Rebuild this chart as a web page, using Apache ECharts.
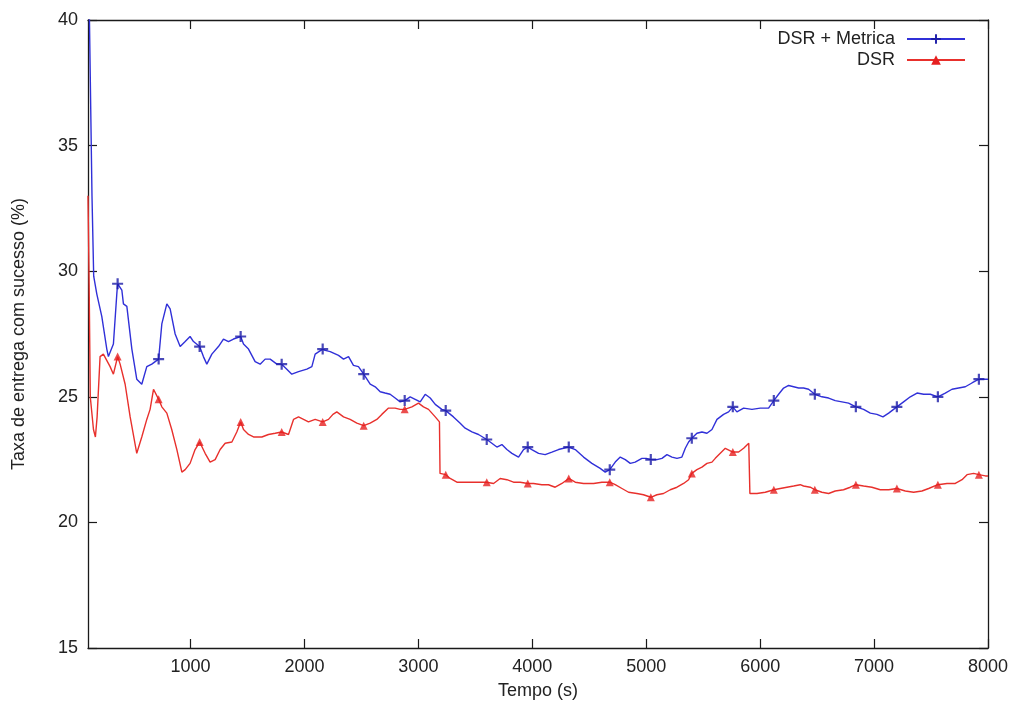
<!DOCTYPE html>
<html>
<head>
<meta charset="utf-8">
<title>Taxa de entrega com sucesso</title>
<script src="https://cdn.jsdelivr.net/npm/echarts@6/dist/echarts.min.js"></script>
<style>
  html, body { margin: 0; padding: 0; background: #ffffff; }
  #chart { width: 1017px; height: 709px; }
</style>
</head>
<body>
<div id="chart"></div>
<script>
// Axis ticks
const tempoTicks = [1000, 2000, 3000, 4000, 5000, 6000, 7000, 8000];
const taxaTicks = [15, 20, 25, 30, 35, 40];

// DSR + Metrica: time (s) and delivery rate (%)
const metricaTempo = [100, 135, 150, 177, 221, 265, 279, 323, 353, 360, 397, 411, 441, 485, 528, 572, 616, 660, 720,
  748, 792, 821, 865, 909, 953, 996, 1026, 1080, 1113, 1143, 1187, 1245, 1289, 1333, 1377, 1440, 1465, 1509, 1567,
  1611, 1655, 1699, 1758, 1800, 1845, 1889, 1948, 2021, 2065, 2094, 2160, 2182, 2226, 2299, 2343, 2387, 2430, 2474,
  2520, 2577, 2621, 2665, 2708, 2752, 2796, 2840, 2880, 2928, 2972, 3016, 3060, 3104, 3148, 3206, 3240, 3308, 3367,
  3411, 3470, 3528, 3600, 3645, 3689, 3733, 3777, 3821, 3879, 3923, 3960, 3996, 4055, 4113, 4172, 4230, 4274, 4320,
  4377, 4450, 4523, 4596, 4640, 4680, 4728, 4772, 4816, 4860, 4903, 4962, 5000, 5040, 5094, 5138, 5182, 5226, 5270,
  5313, 5343, 5372, 5400, 5445, 5489, 5533, 5577, 5621, 5679, 5723, 5760, 5796, 5855, 5928, 6001, 6074, 6120, 6162,
  6206, 6250, 6294, 6338, 6381, 6425, 6480, 6542, 6601, 6659, 6718, 6776, 6840, 6908, 6967, 7025, 7078, 7128, 7200,
  7259, 7318, 7377, 7435, 7494, 7560, 7625, 7684, 7742, 7801, 7859, 7920, 7977, 8000];
const metricaTaxa = [44, 33, 29.8, 29.1, 28.2, 26.9, 26.6, 27.1, 29.1, 29.5, 29.25, 28.7, 28.6, 26.9, 25.7, 25.5, 26.2, 26.3, 26.5,
  27.9, 28.7, 28.5, 27.5, 27.0, 27.2, 27.4, 27.2, 27.0, 26.6, 26.3, 26.7, 27.0, 27.3, 27.2, 27.3, 27.4, 27.1, 26.9, 26.4,
  26.3, 26.5, 26.5, 26.3, 26.3, 26.1, 25.9, 26.0, 26.1, 26.2, 26.7, 26.9, 26.85, 26.8, 26.65, 26.5, 26.6, 26.25, 26.2,
  25.9, 25.5, 25.4, 25.2, 25.15, 25.1, 24.95, 24.8, 24.85, 25.0, 24.9, 24.8, 25.1, 24.95, 24.7, 24.5, 24.45, 24.2, 23.95,
  23.75, 23.6, 23.5, 23.3, 23.15, 23.0, 23.1, 22.9, 22.75, 22.6, 22.9, 23.0, 22.9, 22.75, 22.7, 22.8, 22.9, 22.95, 23.0,
  22.9, 22.6, 22.35, 22.15, 22.0, 22.1, 22.4, 22.6, 22.5, 22.35, 22.4, 22.55, 22.55, 22.5, 22.5, 22.55, 22.7, 22.6, 22.55,
  22.6, 22.95, 23.2, 23.35, 23.55, 23.6, 23.55, 23.7, 24.1, 24.3, 24.4, 24.6, 24.4, 24.55, 24.5, 24.55, 24.55, 24.85, 25.1,
  25.35, 25.45, 25.4, 25.35, 25.35, 25.3, 25.1, 25.0, 24.95, 24.85, 24.8, 24.75, 24.6, 24.5, 24.35, 24.3, 24.2, 24.35, 24.6,
  24.8, 25.0, 25.15, 25.1, 25.1, 25.0, 25.15, 25.3, 25.35, 25.4, 25.55, 25.7, 25.7, 25.7];

// DSR: time (s) and delivery rate (%)
const dsrTempo = [100, 110, 120, 148, 165, 180, 206, 235, 250, 294, 323, 360, 382, 426, 470, 528, 572, 616, 645, 675, 720,
  748, 792, 835, 880, 924, 953, 996, 1040, 1080, 1128, 1172, 1216, 1260, 1304, 1363, 1406, 1440, 1465, 1509, 1553, 1626,
  1684, 1743, 1800, 1860, 1904, 1948, 1992, 2035, 2094, 2160, 2211, 2250, 2284, 2343, 2401, 2460, 2520, 2577, 2635, 2679,
  2738, 2796, 2840, 2880, 2943, 3001, 3045, 3089, 3148, 3185, 3190, 3240, 3279, 3338, 3411, 3470, 3528, 3600, 3660, 3718,
  3777, 3835, 3894, 3960, 4011, 4084, 4142, 4201, 4260, 4320, 4377, 4450, 4538, 4611, 4680, 4728, 4787, 4845, 4918, 4976,
  5040, 5094, 5152, 5211, 5270, 5328, 5372, 5400, 5445, 5489, 5533, 5577, 5606, 5650, 5694, 5760, 5811, 5855, 5900, 5910,
  5972, 6045, 6120, 6176, 6235, 6294, 6352, 6381, 6440, 6480, 6542, 6601, 6659, 6732, 6791, 6840, 6908, 6981, 7054, 7128,
  7200, 7274, 7347, 7420, 7479, 7560, 7640, 7713, 7772, 7816, 7874, 7920, 7977, 8000];
const dsrTaxa = [33.0, 29.5, 25.0, 23.7, 23.4, 24.2, 26.6, 26.7, 26.7, 26.2, 25.9, 26.6, 26.3, 25.5, 24.2, 22.75, 23.4, 24.1, 24.5, 25.3, 24.9,
  24.6, 24.35, 23.7, 22.9, 22.0, 22.1, 22.35, 22.9, 23.2, 22.75, 22.4, 22.5, 22.9, 23.15, 23.2, 23.6, 24.0, 23.7, 23.5, 23.4, 23.4,
  23.5, 23.55, 23.6, 23.5, 24.1, 24.2, 24.1, 24.0, 24.1, 24.0, 24.1, 24.3, 24.4, 24.2, 24.1, 23.95, 23.85, 23.95, 24.1, 24.3,
  24.55, 24.55, 24.5, 24.5, 24.6, 24.75, 24.6, 24.5, 24.2, 24.0, 21.95, 21.9, 21.75, 21.6, 21.6, 21.6, 21.6, 21.6, 21.55, 21.75,
  21.7, 21.6, 21.6, 21.55, 21.55, 21.5, 21.5, 21.4, 21.55, 21.75, 21.6, 21.55, 21.55, 21.6, 21.6, 21.5, 21.35, 21.2, 21.15, 21.1,
  21.0, 21.1, 21.15, 21.3, 21.4, 21.55, 21.7, 21.95, 22.1, 22.2, 22.35, 22.4, 22.55, 22.75, 22.95, 22.8, 22.8, 22.95, 23.15, 21.15,
  21.15, 21.2, 21.3, 21.35, 21.4, 21.45, 21.5, 21.45, 21.4, 21.3, 21.2, 21.15, 21.25, 21.3, 21.4, 21.5, 21.45, 21.4, 21.3, 21.3,
  21.35, 21.25, 21.2, 21.25, 21.35, 21.5, 21.55, 21.55, 21.7, 21.9, 21.95, 21.9, 21.85, 21.85];

// A point symbol is drawn every MARK_STEP seconds
const MARK_STEP = 360;

const FONT = '"Liberation Sans", Arial, Helvetica, sans-serif';
const FONT_SIZE = 18;
const AXIS_COLOR = '#1a1a1a';
const BLUE = '#3030d8';
const BLUE_MARK = '#1c1ca8';
const RED = '#e8302c';
const RED_MARK = '#e62020';
const PLUS = 'path://M4,0H6V4H10V6H6V10H4V6H0V4H4Z';

function pairs(xs, ys) {
  return xs.map((x, i) => [x, ys[i]]);
}
function marks(xs, ys) {
  return pairs(xs, ys).filter(p => p[0] % MARK_STEP === 0);
}
const plain = v => String(v);

const axisLine = { show: true, lineStyle: { color: AXIS_COLOR, width: 1.3 } };
const tickStyle = { color: AXIS_COLOR, width: 1.2 };
const labelStyle = { color: '#222', fontFamily: FONT, fontSize: FONT_SIZE, formatter: plain };

const chart = echarts.init(document.getElementById('chart'), null, { renderer: 'canvas' });

chart.setOption({
  animation: false,
  backgroundColor: '#ffffff',
  textStyle: { fontFamily: FONT },
  grid: { left: 88, right: 29, top: 20, bottom: 61, containLabel: false },
  legend: {
    data: ['DSR + Metrica', 'DSR'],
    orient: 'vertical',
    align: 'right',
    right: 46,
    top: 25,
    itemWidth: 58,
    itemHeight: 12,
    itemGap: 3,
    selectedMode: false,
    textStyle: { color: '#222', fontFamily: FONT, fontSize: FONT_SIZE, padding: [0, 7, 0, 0] }
  },
  xAxis: [
    {
      type: 'value', position: 'bottom', min: 100, max: 8000,
      name: 'Tempo (s)', nameLocation: 'middle', nameGap: 34,
      nameTextStyle: { color: '#222', fontFamily: FONT, fontSize: FONT_SIZE },
      axisLine: axisLine,
      axisTick: { show: true, inside: true, length: 9, lineStyle: tickStyle, customValues: tempoTicks },
      axisLabel: Object.assign({ margin: 10, customValues: tempoTicks }, labelStyle),
      splitLine: { show: false }
    },
    {
      type: 'value', position: 'top', min: 100, max: 8000,
      axisLine: axisLine,
      axisTick: { show: true, inside: true, length: 9, lineStyle: tickStyle, customValues: tempoTicks },
      axisLabel: { show: false },
      splitLine: { show: false }
    }
  ],
  yAxis: [
    {
      type: 'value', position: 'left', min: 15, max: 40, interval: 5,
      name: 'Taxa de entrega com sucesso (%)', nameLocation: 'middle', nameGap: 60,
      nameTextStyle: { color: '#222', fontFamily: FONT, fontSize: FONT_SIZE },
      axisLine: axisLine,
      axisTick: { show: true, inside: true, length: 9, lineStyle: tickStyle, customValues: taxaTicks },
      axisLabel: Object.assign({ margin: 10, customValues: taxaTicks }, labelStyle),
      splitLine: { show: false }
    },
    {
      type: 'value', position: 'right', min: 15, max: 40, interval: 5,
      axisLine: axisLine,
      axisTick: { show: true, inside: true, length: 9, lineStyle: tickStyle, customValues: taxaTicks },
      axisLabel: { show: false },
      splitLine: { show: false }
    }
  ],
  series: [
    {
      name: 'DSR + Metrica',
      type: 'line',
      data: pairs(metricaTempo, metricaTaxa),
      symbol: PLUS,
      symbolSize: 11,
      showSymbol: false,
      clip: true,
      itemStyle: { color: BLUE_MARK },
      lineStyle: { color: BLUE, width: 1.4 },
      z: 3
    },
    {
      name: 'DSR',
      type: 'line',
      data: pairs(dsrTempo, dsrTaxa),
      symbol: 'triangle',
      symbolSize: 9,
      showSymbol: false,
      clip: true,
      itemStyle: { color: RED_MARK },
      lineStyle: { color: RED, width: 1.4 },
      z: 2
    },
    {
      name: 'DSR + Metrica pontos',
      type: 'scatter',
      data: marks(metricaTempo, metricaTaxa),
      symbol: PLUS,
      symbolSize: 11,
      itemStyle: { color: BLUE_MARK },
      z: 4
    },
    {
      name: 'DSR pontos',
      type: 'scatter',
      data: marks(dsrTempo, dsrTaxa),
      symbol: 'triangle',
      symbolSize: 8,
      itemStyle: { color: RED_MARK },
      z: 4
    }
  ]
});
</script>
</body>
</html>
